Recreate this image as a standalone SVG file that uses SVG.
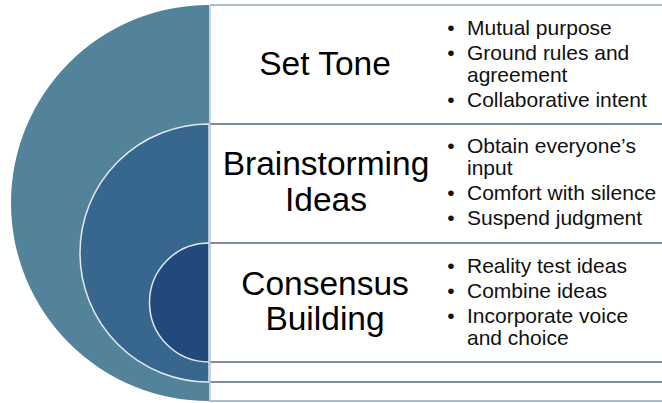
<svg xmlns="http://www.w3.org/2000/svg" width="662" height="403" viewBox="0 0 662 403">
<style>
.title{font-family:"Liberation Sans",Arial,sans-serif;font-size:33.5px;fill:#000;text-anchor:middle}
.bul{font-family:"Liberation Sans",Arial,sans-serif;font-size:21px;fill:#111}
.dot{font-family:"Liberation Sans",Arial,sans-serif;font-size:21px;fill:#111;text-anchor:middle}
.sep{stroke:#7d8ea2;stroke-width:2;fill:none}
.ring{stroke:#ffffff;stroke-opacity:0.85;stroke-width:1.5}
</style>
<rect width="662" height="403" fill="#ffffff"/>
<g id="shapes">
  <path id="outer" d="M209,5 A198,198 0 0 0 209,401 Z" fill="#52839b"/>
  <path id="middle" class="ring" d="M209,124 A129,129 0 0 0 209,382 Z" fill="#37668e"/>
  <path id="inner" class="ring" d="M209,243 A59.5,59.5 0 0 0 209,362 Z" fill="#21497b"/>
</g>
<g id="connectors">
  <line class="sep" x1="210" y1="5" x2="662" y2="5" style="stroke:#a9bccb"/>
  <line class="sep" x1="209" y1="124" x2="662" y2="124"/>
  <line class="sep" x1="209" y1="243" x2="662" y2="243"/>
  <line class="sep" x1="209" y1="362" x2="662" y2="362"/>
  <line class="sep" x1="209" y1="382" x2="662" y2="382"/>
  <line class="sep" x1="209" y1="401" x2="662" y2="401" style="stroke:#a9bccb"/>
  <line x1="210" y1="5" x2="210" y2="401" stroke="#b5c6d3" stroke-width="1.5"/>
</g>
<g id="set-tone">
  <text class="title" x="325" y="75">Set Tone</text>
  <text class="dot" x="451" y="35">•</text>
  <text class="bul" x="467" y="35">Mutual purpose</text>
  <text class="dot" x="451" y="60">•</text>
  <text class="bul" x="467" y="60">Ground rules and</text>
  <text class="bul" x="467" y="82">agreement</text>
  <text class="dot" x="451" y="107">•</text>
  <text class="bul" x="467" y="107">Collaborative intent</text>
</g>
<g id="brainstorming">
  <text class="title" x="326" y="175">Brainstorming</text>
  <text class="title" x="326" y="211">Ideas</text>
  <text class="dot" x="451" y="153">•</text>
  <text class="bul" x="467" y="153">Obtain everyone’s</text>
  <text class="bul" x="467" y="175">input</text>
  <text class="dot" x="451" y="200">•</text>
  <text class="bul" x="467" y="200">Comfort with silence</text>
  <text class="dot" x="451" y="225">•</text>
  <text class="bul" x="467" y="225">Suspend judgment</text>
</g>
<g id="consensus">
  <text class="title" x="325" y="295">Consensus</text>
  <text class="title" x="325" y="330">Building</text>
  <text class="dot" x="451" y="273">•</text>
  <text class="bul" x="467" y="273">Reality test ideas</text>
  <text class="dot" x="451" y="298">•</text>
  <text class="bul" x="467" y="298">Combine ideas</text>
  <text class="dot" x="451" y="323">•</text>
  <text class="bul" x="467" y="323">Incorporate voice</text>
  <text class="bul" x="467" y="345">and choice</text>
</g>
</svg>
